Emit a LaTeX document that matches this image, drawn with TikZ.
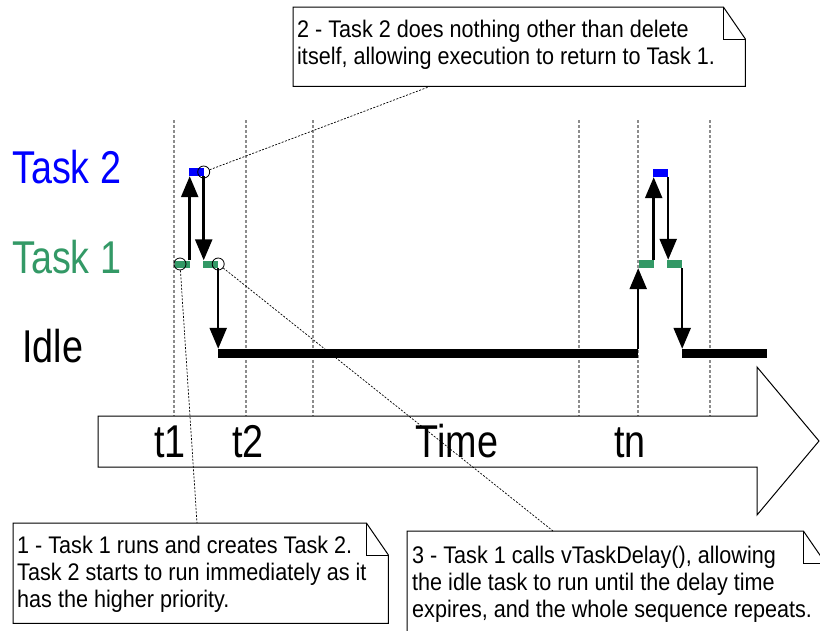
\documentclass[tikz,border=0pt]{standalone}
\usepackage{fontspec}
\usetikzlibrary{arrows.meta}
\newfontfamily\labelfont{Liberation Sans}[FakeStretch=0.82]
\newfontfamily\notefont{Liberation Sans}[FakeStretch=0.9]
\definecolor{taskblue}{RGB}{0,0,255}
\definecolor{taskgreen}{RGB}{51,153,102}
\definecolor{gridgray}{RGB}{140,140,140}
\newcommand{\notebox}[1]{%
   \draw[line width = 1pt] (#1.north west) -- ([xshift=-22pt]#1.north east)
      -- ([yshift=-32pt]#1.north east) -- (#1.south east)
      -- (#1.south west) -- cycle;
   \draw[line width = 1pt] ([xshift=-22pt]#1.north east)
      |- ([yshift=-32pt]#1.north east);}

\begin{document}
\begin{tikzpicture}
      [x = 1pt, y = -1pt,
      grid/.style={
         gridgray,
         line width = 1.5pt,
         dash pattern = on 3pt off 2pt
      },
      flow/.style={
         line width = 2.5pt,
         -{Triangle[length = 21pt, width = 17pt]}
      },
      leader/.style={
         line width = 0.7pt,
         dash pattern = on 2pt off 1.5pt
      },
      bar/.style= {
         inner sep = 0pt,
         minimum width = 15pt,
         minimum height = 8pt
      },
      idle/.style= {
         fill = black,
         inner sep = 0pt,
         minimum height = 9pt
      },
      dot/.style= {
         draw,
         circle,
         inner sep = 0pt,
         minimum size = 12pt,
         line width = 0.8pt
      },
      tasklabel/.style={
         anchor = base west,
         inner sep = 0pt,
         font = \labelfont\fontsize{46}{50}\selectfont
      },
      timelabel/.style={
         anchor = base,
         inner sep = 0pt,
         font = \labelfont\fontsize{46}{50}\selectfont
      },
      note/.style= {
         fill = white,
         anchor = north west,
         inner sep = 0pt
      },
      notetext/.style= {
         anchor = north west,
         align = left,
         inner sep = 0pt,
         font = \notefont\fontsize{24}{27}\selectfont
      }]

      \useasboundingbox (0, 0) rectangle (820, 630);
      \clip (0, 0) rectangle (820, 630);

      \foreach \x in {174, 246, 313, 579, 638, 710}
         \draw[grid] (\x, 120) -- (\x, 416);

      \draw[fill = white, line width = 1pt] (98, 416) -- (757, 416) -- (757, 367)
         -- (819, 441) -- (757, 515) -- (757, 467) -- (98, 467) -- cycle;
      \node[timelabel] (t1) at (170, 457) {t1};
      \node[timelabel] (t2) at (248, 457) {t2};
      \node[timelabel] (time) at (457, 457) {Time};
      \node[timelabel] (tn) at (630, 457) {tn};

      \node[tasklabel, taskblue] (task2) at (12, 183) {Task 2};
      \node[tasklabel, taskgreen] (task1) at (12, 273) {Task 1};
      \node[tasklabel] (idle) at (22, 362) {Idle};

      \node[bar, fill = taskgreen, minimum height = 7pt] (g1) at (182, 264) {};
      \node[bar, fill = taskblue] (b1) at (196, 172) {};
      \node[bar, fill = taskgreen, minimum height = 7pt] (g2) at (210.5, 264) {};
      \node[idle, minimum width = 420pt] (i1) at (428, 353.5) {};
      \node[bar, fill = taskgreen] (g3) at (646, 264) {};
      \node[bar, fill = taskblue] (b2) at (660.5, 173) {};
      \node[bar, fill = taskgreen] (g4) at (674.5, 264) {};
      \node[idle, minimum width = 85pt] (i2) at (724, 353.5) {};

      \draw[flow] (g1.north east) -- (g1.north east |- b1.south);
      \draw[flow] (b1.south east) -- (b1.south east |- g2.north);
      \draw[flow] (g2.south east) -- (g2.south east |- i1.north);
      \draw[flow] (i1.north east) -- (i1.north east |- g3.south);
      \draw[flow] (g3.north east) -- (g3.north east |- b2.south);
      \draw[flow] (b2.south east) -- (b2.south east |- g4.north);
      \draw[flow] (g4.south east) -- (g4.south east |- i2.north);

      \node[dot] (c1) at (180, 264) {};
      \node[dot] (c2) at (b1.east) {};
      \node[dot] (c3) at (g2.east) {};

      \node[note, minimum width = 375pt, minimum height = 100pt] (box1) at (13, 523) {};
      \notebox{box1}
      \node[notetext] (text1) at ([xshift = 4pt, yshift = -12.5pt]box1.north west)
         {1 - Task 1 runs and creates Task 2.\\
          Task 2 starts to run immediately as it\\
          has the higher priority.};
      \node[note, minimum width = 452pt, minimum height = 79pt] (box2) at (293, 7) {};
      \notebox{box2}
      \node[notetext] (text2) at ([xshift = 4pt, yshift = -12.5pt]box2.north west)
         {2 - Task 2 does nothing other than delete\\
          itself, allowing execution to return to Task 1.};
      \node[note, minimum width = 418pt, minimum height = 104pt] (box3) at (407, 531) {};
      \notebox{box3}
      \node[notetext] (text3) at ([xshift = 5pt, yshift = -14.5pt]box3.north west)
         {3 - Task 1 calls vTaskDelay(), allowing\\
          the idle task to run until the delay time\\
          expires, and the whole sequence repeats.};

      \draw[leader] (c1) -- ([xshift = 184pt]box1.north west);
      \draw[leader] (c2) -- ([xshift = 137pt]box2.south west);
      \draw[leader] (c3) -- ([xshift = 146pt]box3.north west);

   \end{tikzpicture}
\end{document}
